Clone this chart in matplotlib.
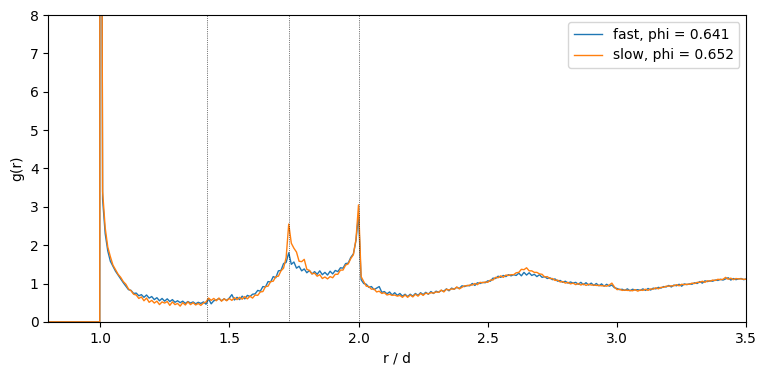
import matplotlib
matplotlib.use('Agg')
import matplotlib.pyplot as plt
import numpy as np

# g(r), bins of 0.01 from r/d = 1.00 to 3.50
r_start = 1.0
r_step = 0.01

g_fast = [
    30.0, 3.20, 2.30, 1.85, 1.58, 1.45, 1.32, 1.22, 1.12, 1.02,
    0.93, 0.84, 0.82, 0.74, 0.75, 0.68, 0.71, 0.64, 0.70, 0.62,
    0.66, 0.58, 0.63, 0.55, 0.61, 0.54, 0.60, 0.53, 0.58, 0.51,
    0.55, 0.50, 0.54, 0.48, 0.53, 0.49, 0.52, 0.47, 0.51, 0.48,
    0.52, 0.46, 0.60, 0.47, 0.55, 0.57, 0.61, 0.55, 0.60, 0.56,
    0.62, 0.71, 0.57, 0.64, 0.58, 0.67, 0.60, 0.69, 0.66, 0.72,
    0.73, 0.82, 0.80, 0.92, 0.91, 1.05, 1.04, 1.18, 1.15, 1.33,
    1.34, 1.52, 1.55, 1.80, 1.50, 1.56, 1.40, 1.45, 1.33, 1.38,
    1.28, 1.34, 1.25, 1.31, 1.24, 1.33, 1.23, 1.29, 1.22, 1.32,
    1.25, 1.34, 1.31, 1.41, 1.40, 1.52, 1.53, 1.68, 1.77, 2.12,
    2.80, 1.10, 1.00, 0.98, 0.90, 0.92, 0.84, 0.88, 0.92, 0.77,
    0.79, 0.73, 0.78, 0.70, 0.76, 0.69, 0.74, 0.67, 0.72, 0.66,
    0.72, 0.67, 0.74, 0.69, 0.76, 0.71, 0.77, 0.72, 0.79, 0.74,
    0.80, 0.77, 0.82, 0.80, 0.86, 0.81, 0.88, 0.85, 0.90, 0.87,
    0.94, 0.92, 0.95, 0.94, 1.00, 0.95, 1.02, 1.00, 1.03, 1.02,
    1.07, 1.06, 1.14, 1.13, 1.19, 1.16, 1.21, 1.18, 1.23, 1.20,
    1.23, 1.21, 1.27, 1.20, 1.29, 1.22, 1.28, 1.21, 1.24, 1.18,
    1.23, 1.16, 1.18, 1.13, 1.15, 1.10, 1.12, 1.06, 1.08, 1.03,
    1.06, 1.01, 1.04, 1.01, 1.03, 0.98, 1.03, 0.97, 1.02, 0.96,
    1.01, 0.95, 1.00, 0.94, 0.99, 0.93, 0.98, 0.93, 0.96, 0.89,
    0.87, 0.84, 0.85, 0.82, 0.86, 0.81, 0.85, 0.83, 0.84, 0.82,
    0.86, 0.82, 0.87, 0.83, 0.88, 0.86, 0.90, 0.88, 0.92, 0.91,
    0.95, 0.91, 0.96, 0.94, 0.98, 0.93, 0.99, 0.97, 0.99, 0.98,
    1.02, 1.00, 1.05, 1.01, 1.07, 1.05, 1.07, 1.06, 1.09, 1.08,
    1.11, 1.09, 1.12, 1.15, 1.09, 1.13, 1.10, 1.12, 1.13, 1.10,
    1.12,
]

g_slow = [
    30.0, 3.40, 2.45, 1.95, 1.70, 1.48, 1.36, 1.24, 1.16, 1.05,
    0.98, 0.86, 0.81, 0.72, 0.70, 0.61, 0.65, 0.55, 0.62, 0.51,
    0.56, 0.49, 0.54, 0.45, 0.52, 0.49, 0.53, 0.43, 0.52, 0.45,
    0.48, 0.41, 0.50, 0.44, 0.52, 0.45, 0.50, 0.44, 0.48, 0.43,
    0.49, 0.52, 0.62, 0.56, 0.61, 0.55, 0.62, 0.54, 0.60, 0.55,
    0.61, 0.56, 0.63, 0.58, 0.64, 0.59, 0.66, 0.60, 0.67, 0.62,
    0.70, 0.69, 0.78, 0.79, 0.92, 0.93, 1.05, 1.06, 1.18, 1.19,
    1.33, 1.40, 1.68, 2.55, 2.05, 1.92, 1.82, 1.58, 1.57, 1.63,
    1.37, 1.34, 1.25, 1.27, 1.19, 1.23, 1.13, 1.17, 1.12, 1.18,
    1.15, 1.24, 1.24, 1.35, 1.35, 1.48, 1.51, 1.65, 1.75, 2.14,
    3.05, 1.18, 1.05, 0.93, 0.92, 0.85, 0.86, 0.78, 0.80, 0.74,
    0.76, 0.70, 0.72, 0.69, 0.70, 0.67, 0.69, 0.64, 0.70, 0.64,
    0.70, 0.65, 0.72, 0.67, 0.74, 0.69, 0.75, 0.73, 0.76, 0.75,
    0.78, 0.77, 0.83, 0.78, 0.85, 0.83, 0.86, 0.85, 0.91, 0.86,
    0.90, 0.94, 0.94, 0.96, 0.96, 1.00, 0.97, 1.03, 1.02, 1.04,
    1.03, 1.09, 1.09, 1.16, 1.15, 1.20, 1.16, 1.22, 1.21, 1.23,
    1.23, 1.28, 1.29, 1.37, 1.36, 1.41, 1.33, 1.33, 1.29, 1.29,
    1.25, 1.24, 1.17, 1.18, 1.13, 1.13, 1.08, 1.09, 1.04, 1.05,
    1.01, 1.03, 0.99, 1.01, 0.97, 1.00, 0.96, 0.99, 0.95, 0.98,
    0.96, 0.96, 0.95, 0.95, 0.94, 0.94, 0.93, 0.96, 1.01, 0.91,
    0.84, 0.85, 0.82, 0.83, 0.82, 0.82, 0.81, 0.84, 0.80, 0.83,
    0.82, 0.85, 0.82, 0.86, 0.85, 0.89, 0.86, 0.90, 0.90, 0.93,
    0.93, 0.94, 0.94, 0.97, 0.94, 0.98, 0.97, 0.98, 0.98, 1.01,
    1.00, 1.03, 1.03, 1.06, 1.03, 1.07, 1.06, 1.09, 1.08, 1.11,
    1.10, 1.11, 1.16, 1.11, 1.14, 1.10, 1.13, 1.12, 1.12, 1.11,
    1.11,
]

# below contact g(r) is zero
r_core = [0.8, 0.999]
g_core = [0.0, 0.0]

# neighbour distances marked in the plot
marks = [np.sqrt(2), np.sqrt(3), 2.0]

labels = ['fast, phi = 0.641', 'slow, phi = 0.652']


def main():
    r = np.round(r_start + r_step * np.arange(len(g_fast)), 3)
    r_all = np.concatenate([r_core, r])

    fig, ax = plt.subplots(figsize=(7.67, 3.76), dpi=100)
    fig.subplots_adjust(left=0.063, right=0.973, bottom=0.144, top=0.96)

    ax.plot(r_all, np.concatenate([g_core, g_fast]), lw=1, label=labels[0])
    ax.plot(r_all, np.concatenate([g_core, g_slow]), lw=1, label=labels[1])
    for m in marks:
        ax.axvline(m, color='k', ls=':', lw=0.5)

    ax.set_xlim(0.8, 3.5)
    ax.set_ylim(0, 8)
    ax.set_xlabel('r / d')
    ax.set_ylabel('g(r)')
    ax.legend(loc='upper right')

    fig.savefig('out.png')


if __name__ == '__main__':
    main()
